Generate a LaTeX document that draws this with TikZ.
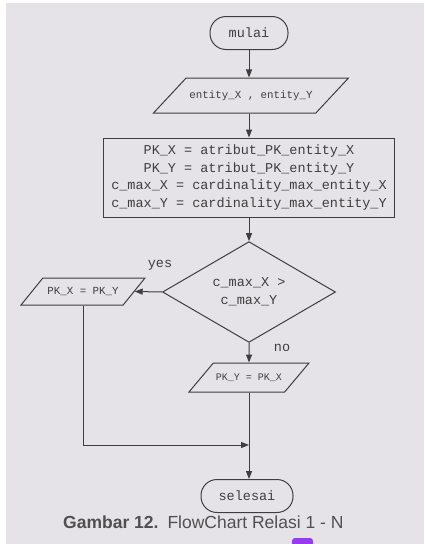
\documentclass[tikz,border=0pt]{standalone}
\usepackage{fontspec}
\setsansfont{Liberation Sans}
\setmonofont{Liberation Mono}
\usetikzlibrary{shapes.geometric,arrows.meta}
\definecolor{scan}{RGB}{229,227,231}
\definecolor{ink}{RGB}{62,62,62}
\definecolor{capgray}{RGB}{80,80,80}
\definecolor{marker}{RGB}{150,60,240}

\begin{document}
\begin{tikzpicture}[x=1pt,y=1pt,yscale=-1,
  line/.style={draw=ink,line width=1pt},
  arr/.style={line,-{Triangle[length=8pt,width=6pt]}},
  bigtt/.style={font=\ttfamily\fontsize{13.5}{17.5}\selectfont,text=ink},
  smalltt/.style={font=\ttfamily\fontsize{10.8}{13}\selectfont,text=ink},
  terminal/.style={line,bigtt,rounded corners=16pt,minimum height=33pt,inner sep=0pt},
  iobox/.style={line,smalltt,trapezium,trapezium stretches body,inner xsep=0pt,text height=8pt,text depth=2pt},
  procbox/.style={line,bigtt,rectangle,align=center,inner sep=0pt},
  decision/.style={line,bigtt,diamond,align=center,inner sep=0pt}]
%uncomment if require: \path (0,544); %set diagram left start at 0, and has height of 544
\useasboundingbox (0,0) rectangle (424,544);

%Background of the scanned page
\fill [white] (0,0) rectangle (424,544);
\fill [scan] (6,3) rectangle (424,544);

%Terminal [mulai]
\node [terminal,minimum width=78pt] (mulai) at (249,33) {mulai};
%Input [entity]
\node [iobox,inner ysep=12.5pt,trapezium left angle=47,trapezium right angle=133,minimum width=195pt] (entity) at (251,95.5) {entity\_X , entity\_Y};
%Process [attributes]
\node [procbox,minimum width=291pt,minimum height=79pt] (assign) at (249,177.5) {PK\_X = atribut\_PK\_entity\_X\\PK\_Y = atribut\_PK\_entity\_Y\\c\_max\_X = cardinality\_max\_entity\_X\\c\_max\_Y = cardinality\_max\_entity\_Y};
%Decision [cardinality]
\node [decision,minimum width=173pt,minimum height=74pt] (cmax) at (249,292) {c\_max\_X >\\c\_max\_Y};
%Output [yes branch]
\node [iobox,inner ysep=8.5pt,trapezium left angle=51,trapezium right angle=129,minimum width=124pt] (pkx) at (83,291.5) {PK\_X = PK\_Y};
%Output [no branch]
\node [iobox,inner ysep=9.5pt,font=\ttfamily\fontsize{10}{12}\selectfont,trapezium left angle=50,trapezium right angle=130,minimum width=120pt] (pky) at (249,377.5) {PK\_Y = PK\_X};
%Terminal [selesai]
\node [terminal,minimum width=92pt] (selesai) at (247,496) {selesai};
\coordinate (join) at (249,445);

%Straight Lines
\draw [arr] (mulai) -- (mulai |- entity.north);
\draw [arr] (mulai |- entity.south) -- (assign);
\draw [arr] (assign) -- (cmax);
\draw [arr] (cmax.west) -- (pkx.east);
\draw [arr] (cmax.south) -- (pky.north);
\draw [arr] (pkx.south) |- (join);
\draw [arr] (pky.south) -- (pky.south |- selesai.north);

% Text Node
\node [bigtt] (yes) at (160,265) {yes};
% Text Node
\node [bigtt] (no) at (282,348) {no};
% Text Node
\node [anchor=base west,inner sep=0pt,font=\sffamily\fontsize{17.5}{20}\selectfont,text=capgray] (caption) at (63,528) {\textbf{Gambar 12.}\hspace{9pt}FlowChart Relasi 1 - N};

%Marker
\fill [marker] (292,544) [rounded corners=3pt]-- (292,538) -- (313,538) [sharp corners]-- (313,544) -- cycle;

\end{tikzpicture}
\end{document}
